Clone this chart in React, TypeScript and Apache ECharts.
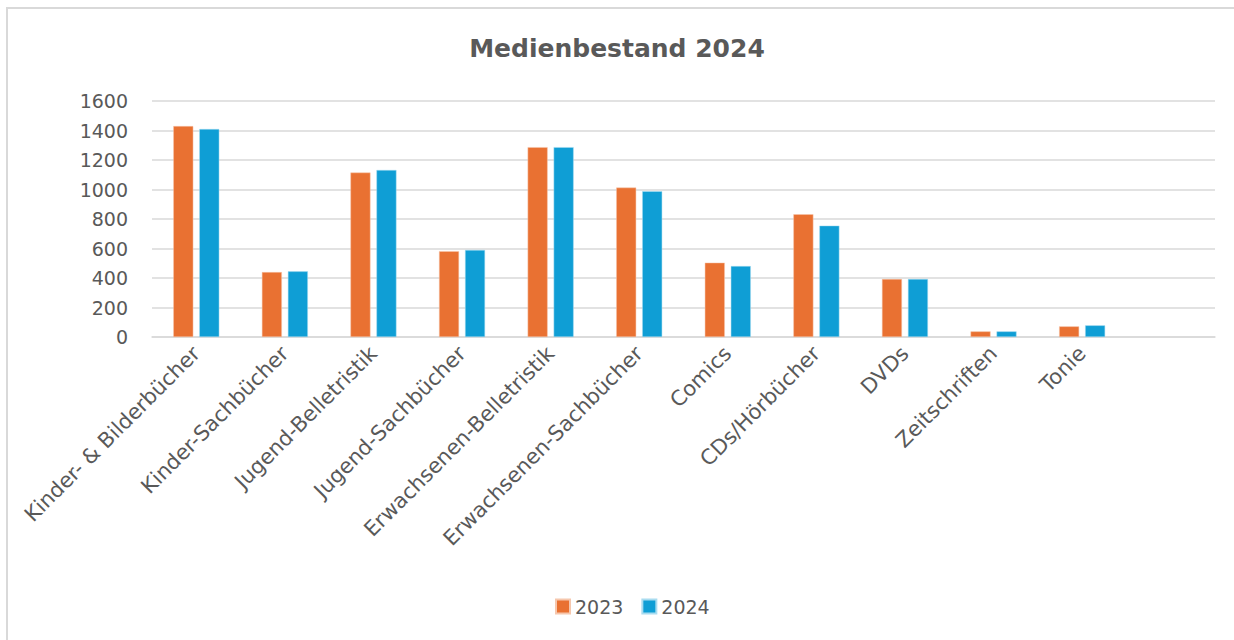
import React, { useEffect, useRef } from "react";
import * as echarts from "echarts";

const categories = [
  "Kinder- & Bilderbücher",
  "Kinder-Sachbücher",
  "Jugend-Belletristik",
  "Jugend-Sachbücher",
  "Erwachsenen-Belletristik",
  "Erwachsenen-Sachbücher",
  "Comics",
  "CDs/Hörbücher",
  "DVDs",
  "Zeitschriften",
  "Tonie",
  "",
];
const values2023 = [1430, 440, 1115, 582, 1287, 1013, 504, 832, 393, 38, 72];
const values2024 = [1410, 445, 1132, 590, 1287, 988, 481, 755, 393, 38, 79];
const yTicks = [0, 1600, 200];

const TEXT = "#595959";
const GRID = "#d9d9d9";
const FONT = "DejaVu Sans";

export default function App() {
  const ref = useRef<HTMLDivElement>(null);
  useEffect(() => {
    if (!ref.current) return;
    const chart = echarts.init(ref.current, null, { renderer: "svg" });
    chart.setOption({
      animation: false,
      backgroundColor: "#ffffff",
      textStyle: { fontFamily: FONT, color: TEXT },
      title: {
        text: "Medienbestand 2024",
        left: "center",
        top: 31,
        textStyle: { fontFamily: FONT, fontSize: 25, fontWeight: "bold", color: TEXT },
      },
      legend: {
        top: 592,
        left: 550,
        icon: "rect",
        itemWidth: 14,
        itemHeight: 14,
        itemGap: 18,
        textStyle: { fontFamily: FONT, fontSize: 19, color: TEXT },
        data: ["2023", "2024"],
      },
      graphic: [
        {
          type: "rect",
          shape: { x: 7, y: 8, width: 1400, height: 800 },
          style: { fill: "none", stroke: "#d9d9d9", lineWidth: 2 },
          silent: true,
        },
      ],
      grid: { left: 152, right: 19, top: 101, bottom: 303, containLabel: false },
      xAxis: {
        type: "category",
        data: categories,
        axisLine: { show: true, lineStyle: { color: GRID, width: 1.5 } },
        axisTick: { show: false },
        axisLabel: {
          rotate: 45,
          interval: 0,
          margin: 13,
          fontFamily: FONT,
          fontSize: 21,
          color: TEXT,
        },
      },
      yAxis: {
        type: "value",
        min: yTicks[0],
        max: yTicks[1],
        interval: yTicks[2],
        axisLine: { show: false },
        axisTick: { show: false },
        splitLine: { lineStyle: { color: GRID, width: 1.5 } },
        axisLabel: {
          margin: 24,
          fontFamily: FONT,
          fontSize: 19,
          color: TEXT,
          formatter: (v: number) => String(v),
        },
      },
      series: [
        {
          name: "2023",
          type: "bar",
          data: values2023,
          barWidth: 20,
          barGap: "30%",
          itemStyle: { color: "#E97132", borderColor: "#f6c7ad", borderWidth: 0.5 },
        },
        {
          name: "2024",
          type: "bar",
          data: values2024,
          barWidth: 20,
          barGap: "30%",
          itemStyle: { color: "#0F9ED5", borderColor: "#a9dcf0", borderWidth: 0.5 },
        },
      ],
    });
    return () => chart.dispose();
  }, []);
  return (
    <div
      ref={ref}
      style={{ position: "absolute", left: 0, top: 0, width: 1234, height: 640 }}
    />
  );
}
